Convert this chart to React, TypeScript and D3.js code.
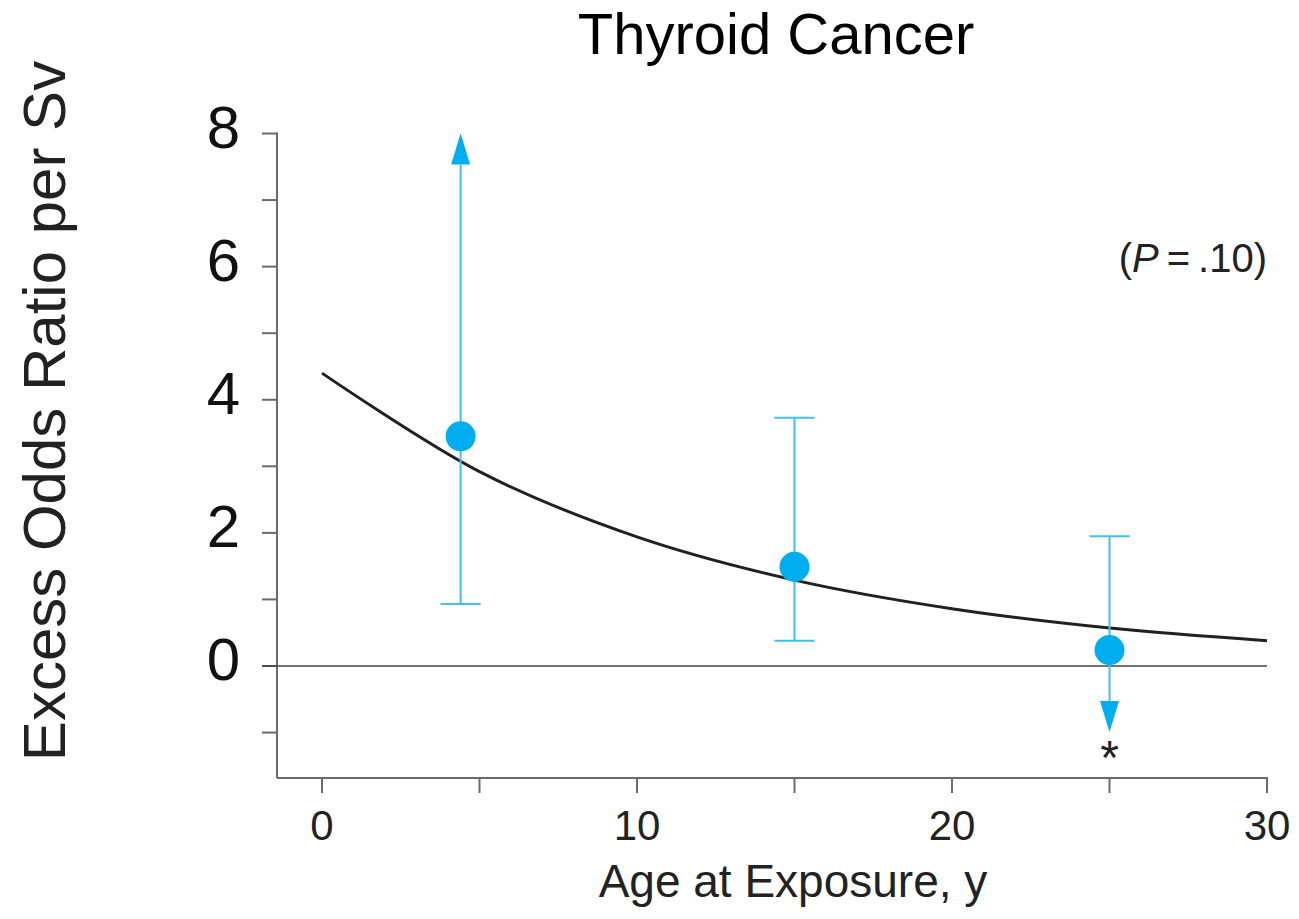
import React from "react";
import * as d3 from "d3";

const title = "Thyroid Cancer";
const yLabel = "Excess Odds Ratio per Sv";
const xLabel = "Age at Exposure, y";

const xMajorTicks = [0, 10, 20, 30];
const xAllTicks = [0, 5, 10, 15, 20, 25, 30];
const yMajorTicks = [0, 2, 4, 6, 8];
const yAllTicks = [-1, 0, 1, 2, 3, 4, 5, 6, 7, 8];

// Estimates with confidence limits
const ages = [4.4, 15, 25];
const estimates = [3.45, 1.49, 0.24];
const lowers = [0.93, 0.38, -0.99];
const uppers = [8.0, 3.73, 1.95];
const lowerArrow = [false, false, true];
const upperArrow = [true, false, false];
const asterisk = [false, false, true];

// Fitted curve
const curveAges = [0, 5, 10, 15, 20, 25, 30];
const curveValues = [4.4, 2.92, 1.94, 1.29, 0.86, 0.57, 0.38];

const W = 1299;
const H = 919;
const font = "'Liberation Sans', Arial, Helvetica, sans-serif";

export default function App() {
  const x = d3.scaleLinear().domain([0, 30]).range([322, 1267]);
  const y = d3.scaleLinear().domain([0, 8]).range([666, 133.5]);
  const axisLeft = 277;
  const axisBottom = 778;
  const axisColor = "#6b6b6b";
  const blue = "#00aeef";
  const lightBlue = "#3fc0f0";

  const line = d3
    .line<number>()
    .x((_, i) => x(curveAges[i]))
    .y((d) => y(d))
    .curve(d3.curveCatmullRom.alpha(0.5));

  return (
    <svg
      width={W}
      height={H}
      style={{ position: "absolute", left: 0, top: 0, background: "#fff" }}
      fontFamily={font}
    >
      <text x={776} y={54} fontSize={58} textAnchor="middle" fill="#000">
        {title}
      </text>

      {/* Y axis */}
      <line x1={axisLeft} x2={axisLeft} y1={y(8) - 1} y2={axisBottom} stroke={axisColor} strokeWidth={2} />
      {yAllTicks.map((t) => (
        <line key={"yt" + t} x1={axisLeft - 15} x2={axisLeft} y1={y(t)} y2={y(t)} stroke={axisColor} strokeWidth={2} />
      ))}
      {yMajorTicks.map((t) => (
        <text key={"yl" + t} x={240} y={y(t) + 14} fontSize={60} textAnchor="end" fill="#111">
          {t}
        </text>
      ))}

      {/* X axis */}
      <line x1={axisLeft} x2={x(30) + 1} y1={axisBottom} y2={axisBottom} stroke={axisColor} strokeWidth={2} />
      {xAllTicks.map((t) => (
        <line key={"xt" + t} x1={x(t)} x2={x(t)} y1={axisBottom} y2={axisBottom + 15} stroke={axisColor} strokeWidth={2} />
      ))}
      {xMajorTicks.map((t) => (
        <text key={"xl" + t} x={x(t)} y={840} fontSize={42} textAnchor="middle" fill="#222">
          {t}
        </text>
      ))}

      {/* zero line */}
      <line x1={axisLeft - 15} x2={x(30)} y1={y(0)} y2={y(0)} stroke="#444" strokeWidth={1.6} />

      {/* Axis labels */}
      <text x={793} y={897} fontSize={46} textAnchor="middle" fill="#222">
        {xLabel}
      </text>
      <text
        transform={`translate(65, 411) rotate(-90)`}
        fontSize={60}
        textAnchor="middle"
        fill="#222"
      >
        {yLabel}
      </text>

      {/* P value */}
      <text x={1267} y={272} fontSize={40} textAnchor="end" fill="#222">
        (<tspan fontStyle="italic">P</tspan>
        <tspan dx={8}>=</tspan>
        <tspan dx={8}>.10)</tspan>
      </text>

      {/* fitted curve */}
      <path d={line(curveValues) || ""} fill="none" stroke="#231f20" strokeWidth={3} />

      {/* Error bars and points */}
      {ages.map((a, i) => {
        const cx = x(a);
        const yLo = y(lowers[i]);
        const yHi = y(uppers[i]);
        const head = 31;
        const hw = 9.5;
        return (
          <g key={"pt" + i}>
            <line
              x1={cx}
              x2={cx}
              y1={lowerArrow[i] ? yLo - head : yLo}
              y2={upperArrow[i] ? yHi + head : yHi}
              stroke={lightBlue}
              strokeWidth={2}
            />
            {upperArrow[i] ? (
              <path d={`M${cx},${yHi} L${cx - hw},${yHi + head} L${cx + hw},${yHi + head} Z`} fill={blue} />
            ) : (
              <line x1={cx - 20} x2={cx + 20} y1={yHi} y2={yHi} stroke={lightBlue} strokeWidth={2} />
            )}
            {lowerArrow[i] ? (
              <path d={`M${cx},${yLo} L${cx - hw},${yLo - head} L${cx + hw},${yLo - head} Z`} fill={blue} />
            ) : (
              <line x1={cx - 20} x2={cx + 20} y1={yLo} y2={yLo} stroke={lightBlue} strokeWidth={2} />
            )}
            <circle cx={cx} cy={y(estimates[i])} r={15} fill={blue} />
            {asterisk[i] && (
              <text x={cx} y={yLo + 42} fontSize={48} textAnchor="middle" fill="#222">
                *
              </text>
            )}
          </g>
        );
      })}
    </svg>
  );
}
